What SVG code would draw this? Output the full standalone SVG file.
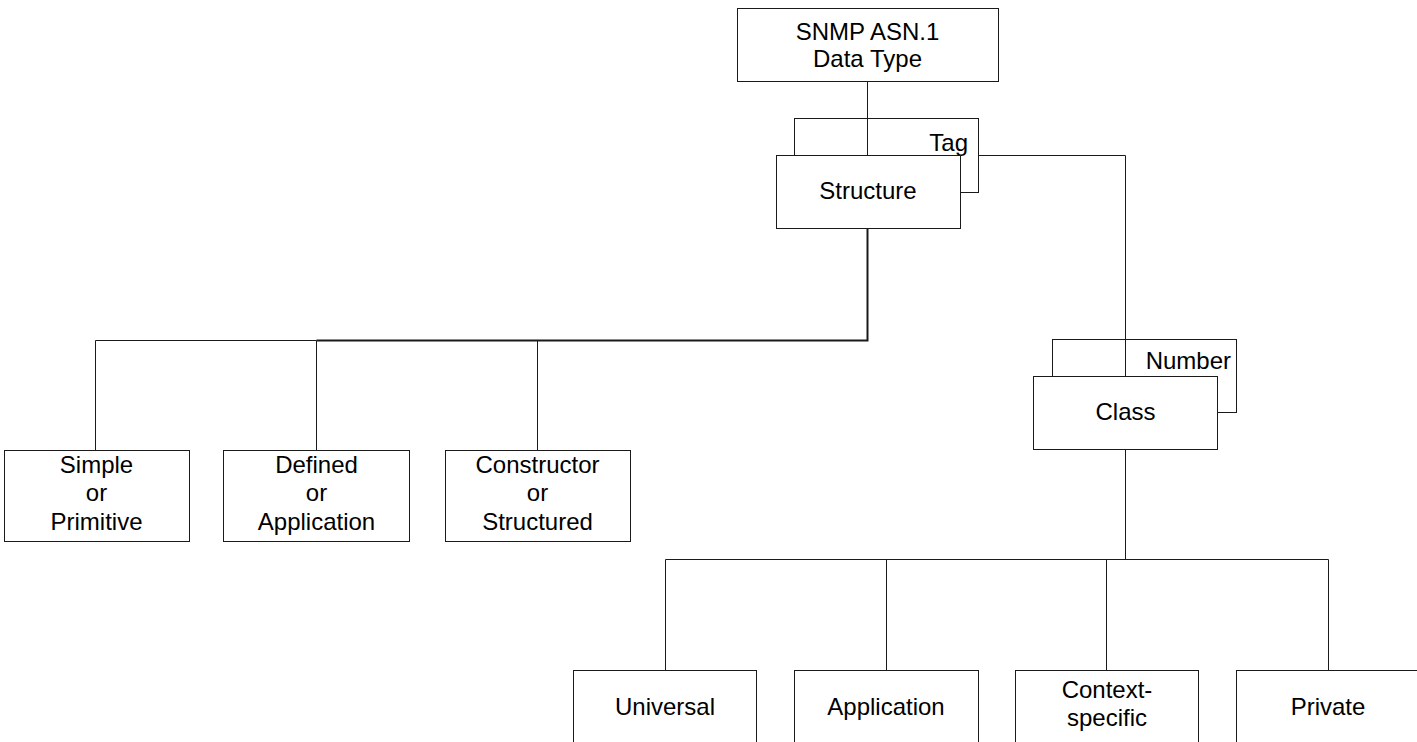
<svg xmlns="http://www.w3.org/2000/svg" width="1417" height="742" viewBox="0 0 1417 742">
  <style>
    .box { fill: #fff; stroke: #1a1a1a; stroke-width: 1; }
    .wire { fill: none; stroke: #1a1a1a; stroke-width: 1; }
    .trunk { fill: none; stroke: #1a1a1a; stroke-width: 2; }
    text { font-family: "Liberation Sans", Arial, sans-serif; font-size: 24px; fill: #000; text-anchor: middle; }
    .right { text-anchor: end; }
  </style>
  <rect width="1417" height="742" fill="#fff"/>

  <!-- back boxes (Tag / Number) drawn first so the front boxes overlap them -->
  <g id="tag">
    <rect class="box" x="794.5" y="118.5" width="184" height="74"/>
    <text class="right" x="968" y="151">Tag</text>
  </g>
  <g id="number">
    <rect class="box" x="1052.5" y="339.5" width="184" height="73"/>
    <text class="right" x="1231" y="369">Number</text>
  </g>

  <g id="connectors">
    <!-- root to Structure -->
    <path class="wire" d="M867.5 81.5 V155.5"/>
    <!-- Tag to Number / Class -->
    <path class="wire" d="M978.5 155.5 H1125.5 V376.5"/>
    <!-- Structure branches -->
    <path class="trunk" d="M867.5 228.5 V340.5 H316.5"/>
    <path class="wire" d="M316.5 340.5 H95.5 V450.5 M316.5 340.5 V450.5 M537.5 340.5 V450.5"/>
    <!-- Class branches -->
    <path class="wire" d="M1125.5 449.5 V559.5 M665.5 670.5 V559.5 H1328.5 V670.5 M886.5 559.5 V670.5 M1106.5 559.5 V670.5"/>
  </g>

  <g id="root">
    <rect class="box" x="737.5" y="8.5" width="261" height="73"/>
    <text x="867.5" y="40">SNMP ASN.1</text>
    <text x="867.5" y="67">Data Type</text>
  </g>
  <g id="structure">
    <rect class="box" x="776.5" y="155.5" width="184" height="73"/>
    <text x="868" y="199">Structure</text>
  </g>
  <g id="class">
    <rect class="box" x="1033.5" y="376.5" width="184" height="73"/>
    <text x="1125.5" y="420">Class</text>
  </g>

  <g id="simple">
    <rect class="box" x="4.5" y="450.5" width="185" height="91"/>
    <text x="96.5" y="473">Simple</text>
    <text x="96.5" y="501">or</text>
    <text x="96.5" y="530">Primitive</text>
  </g>
  <g id="defined">
    <rect class="box" x="223.5" y="450.5" width="186" height="91"/>
    <text x="316.5" y="473">Defined</text>
    <text x="316.5" y="501">or</text>
    <text x="316.5" y="530">Application</text>
  </g>
  <g id="constructor">
    <rect class="box" x="445.5" y="450.5" width="185" height="91"/>
    <text x="537.5" y="473">Constructor</text>
    <text x="537.5" y="501">or</text>
    <text x="537.5" y="530">Structured</text>
  </g>

  <g id="universal">
    <rect class="box" x="573.5" y="670.5" width="183" height="92"/>
    <text x="665" y="715">Universal</text>
  </g>
  <g id="application">
    <rect class="box" x="794.5" y="670.5" width="184" height="92"/>
    <text x="886" y="715">Application</text>
  </g>
  <g id="context-specific">
    <rect class="box" x="1015.5" y="670.5" width="183" height="92"/>
    <text x="1107" y="698">Context-</text>
    <text x="1107" y="726">specific</text>
  </g>
  <g id="private">
    <rect class="box" x="1236.5" y="670.5" width="184" height="92"/>
    <text x="1328" y="715">Private</text>
  </g>
</svg>
